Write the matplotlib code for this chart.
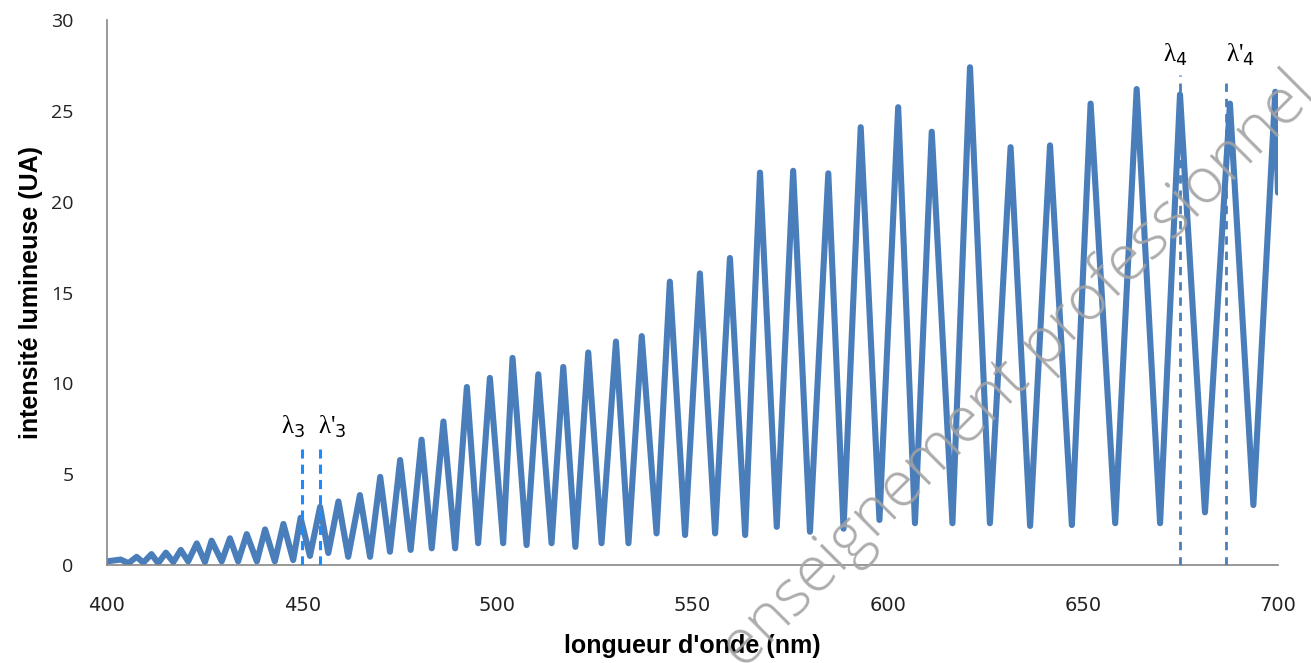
import matplotlib
matplotlib.use("Agg")
import matplotlib.pyplot as plt

# spectre : maxima et minima (nm, UA)
wavelength = [400.0, 403.5, 405.5, 407.6, 409.3, 411.4, 413.1, 415.1, 417.0, 418.9,
              420.8, 423.0, 425.1, 426.8, 429.4, 431.5, 433.6, 435.8, 438.4, 440.5,
              443.0, 445.2, 447.7, 449.6, 452.0, 454.6, 456.7, 459.3, 461.8, 464.8,
              467.4, 470.0, 472.5, 475.1, 477.8, 480.6, 483.2, 486.2, 489.2, 492.2,
              495.1, 498.1, 501.5, 503.9, 507.5, 510.5, 513.9, 516.9, 520.0, 523.3,
              526.7, 530.4, 533.6, 537.0, 540.8, 544.2, 548.1, 551.9, 555.8, 559.6,
              563.5, 567.3, 571.6, 575.8, 580.1, 584.8, 588.7, 593.1, 597.9, 602.7,
              607.0, 611.3, 616.6, 621.1, 626.2, 631.5, 636.5, 641.6, 647.2, 652.0,
              658.3, 663.8, 669.8, 674.9, 681.3, 687.7, 693.7, 699.3, 700.0]
intensity = [0.2, 0.3, 0.1, 0.45, 0.13, 0.6, 0.1, 0.68, 0.16, 0.83,
             0.2, 1.19, 0.16, 1.34, 0.2, 1.47, 0.2, 1.7, 0.2, 1.96,
             0.2, 2.26, 0.27, 2.6, 0.5, 3.2, 0.66, 3.5, 0.45, 3.85,
             0.45, 4.85, 0.73, 5.78, 0.83, 6.9, 0.92, 7.9, 0.92, 9.8,
             1.2, 10.3, 1.2, 11.4, 1.1, 10.5, 1.2, 10.9, 1.0, 11.7,
             1.2, 12.3, 1.2, 12.6, 1.74, 15.6, 1.65, 16.05, 1.74, 16.9,
             1.65, 21.6, 2.1, 21.7, 1.83, 21.56, 2.0, 24.1, 2.48, 25.2,
             2.3, 23.85, 2.3, 27.4, 2.3, 23.0, 2.15, 23.1, 2.2, 25.4,
             2.3, 26.2, 2.3, 25.9, 2.9, 25.4, 3.3, 26.05, 20.5]

# repères
marks_3 = [450.0, 454.6]
marks_3_top = 6.4
marks_4 = [674.9, 686.7]
marks_4_top = [27.0, 26.65]

curve_color = "#4a7ebb"

fig = plt.figure(figsize=(13.11, 6.63), dpi=100)
ax = fig.add_axes([0.0816, 0.1478, 0.8932, 0.822])

ax.plot(wavelength, intensity, color=curve_color, lw=4.4,
        solid_joinstyle="round", solid_capstyle="round", zorder=2)

for x in marks_3:
    ax.plot([x, x], [0, marks_3_top], color="#1a8cff", lw=2.2,
            ls=(0, (3, 2)), zorder=3)
for x, top in zip(marks_4, marks_4_top):
    ax.plot([x, x], [0, top], color=curve_color, lw=2.0,
            ls=(0, (3, 2.5)), zorder=3)

lab_kw = dict(family="Liberation Serif", fontsize=18, ha="center", va="center")
ax.text(447.8, 7.6, "λ$_3$", **lab_kw)
ax.text(457.8, 7.6, "λ'$_3$", **lab_kw)
ax.text(673.8, 28.1, "λ$_4$", **lab_kw)
ax.text(690.5, 28.1, "λ'$_4$", **lab_kw)

ax.set_xlim(400, 700)
ax.set_ylim(0, 30)
ax.set_xticks(range(400, 701, 50))
ax.set_yticks(range(0, 31, 5))
ax.tick_params(length=0, labelsize=14, colors="#222222")
ax.tick_params(axis="x", pad=22)
ax.tick_params(axis="y", pad=24)
for lbl in ax.get_xticklabels():
    lbl.set_family("Liberation Sans Narrow")
for lbl in ax.get_yticklabels():
    lbl.set_family("Open Sans")

ax.set_xlabel("longueur d'onde (nm)", family="Liberation Sans", fontweight="bold",
              fontsize=18, labelpad=14)
ax.set_ylabel("intensité lumineuse (UA)", family="Liberation Sans", fontweight="bold",
              fontsize=18, labelpad=6)

for s in ["top", "right"]:
    ax.spines[s].set_visible(False)
for s in ["left", "bottom"]:
    ax.spines[s].set_color("#868686")
    ax.spines[s].set_linewidth(1.2)

# filigrane
fig.text(0.567, -0.012, "enseignement professionnel", rotation=45,
         rotation_mode="anchor", ha="left", va="baseline", fontsize=46,
         family="Open Sans", fontweight="light", color="#a3a3a3", alpha=0.9,
         zorder=10)

fig.savefig("out.png", dpi=100)
